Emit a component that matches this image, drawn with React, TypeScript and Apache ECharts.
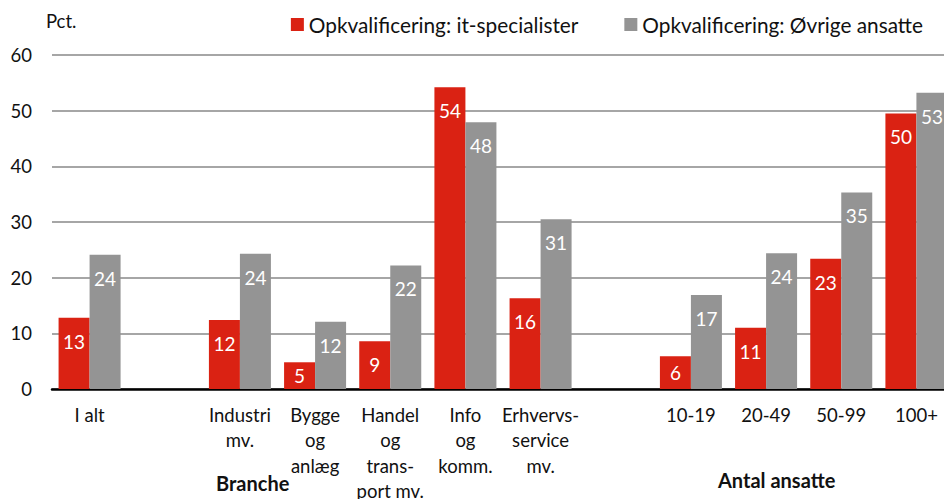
import React, { useEffect, useRef } from "react";
import * as echarts from "echarts";

const categories = [
  "I alt",
  "",
  "Industri\nmv.",
  "Bygge\nog\nanlæg",
  "Handel\nog\ntrans-\nport mv.",
  "Info\nog\nkomm.",
  "Erhvervs-\nservice\nmv.",
  " ",
  "10-19",
  "20-49",
  "50-99",
  "100+",
];
const itSpecialister: (number | null)[] = [12.8, null, 12.4, 4.8, 8.6, 54.2, 16.3, null, 5.9, 11.0, 23.4, 49.5];
const ovrigeAnsatte: (number | null)[] = [24.1, null, 24.3, 12.1, 22.2, 47.9, 30.5, null, 16.9, 24.4, 35.3, 53.2];
const seriesNames = ["Opkvalificering: it-specialister", "Opkvalificering: Øvrige ansatte"];
const yTicks = { min: 0, max: 60, interval: 10 };

const FONT = "Lato";

function makeData(vals: (number | null)[]) {
  return vals.map((v) =>
    v === null
      ? null
      : {
          value: v,
          label: v < 8 ? { position: "inside" } : { position: "insideTop", distance: 14 },
        }
  );
}

export default function App() {
  const ref = useRef<HTMLDivElement>(null);
  useEffect(() => {
    document.body.style.margin = "0";
    document.body.style.overflow = "hidden";
    if (!ref.current) return;
    const chart = echarts.init(ref.current, null, { renderer: "svg" });
    const labelCommon = {
      show: true,
      color: "#ffffff",
      fontFamily: FONT,
      fontSize: 19,
      formatter: (p: any) => String(Math.round(p.value)),
    };
    chart.setOption({
      animation: false,
      textStyle: { fontFamily: FONT },
      grid: {
        left: 52,
        right: -10,
        top: 55,
        bottom: 110,
        containLabel: false,
        outerBoundsMode: "none",
      },
      legend: {
        top: 9,
        right: 16,
        itemWidth: 13,
        itemHeight: 13,
        itemGap: 46,
        icon: "rect",
        textStyle: { fontFamily: FONT, fontSize: 20.8, color: "#111" },
        data: seriesNames,
      },
      xAxis: {
        type: "category",
        data: categories,
        axisTick: { show: false },
        axisLine: { show: true, lineStyle: { color: "#000", width: 2.5 } },
        axisLabel: {
          interval: 0,
          color: "#111",
          fontFamily: FONT,
          fontSize: 18.5,
          lineHeight: 25.5,
          margin: 13,
        },
      },
      yAxis: {
        type: "value",
        min: yTicks.min,
        max: yTicks.max,
        interval: yTicks.interval,
        axisLine: { show: false },
        axisTick: { show: false },
        splitLine: { lineStyle: { color: "#a6a6a6", width: 2 } },
        axisLabel: { color: "#111", fontFamily: FONT, fontSize: 18.5, margin: 20 },
      },
      series: [
        {
          name: seriesNames[0],
          type: "bar",
          data: makeData(itSpecialister),
          itemStyle: { color: "#da2213" },
          barGap: "0%",
          barCategoryGap: "17.5%",
          label: labelCommon,
        },
        {
          name: seriesNames[1],
          type: "bar",
          data: makeData(ovrigeAnsatte),
          itemStyle: { color: "#949494" },
          label: labelCommon,
        },
      ],
      graphic: [
        {
          type: "text",
          left: 46,
          top: 11,
          style: { text: "Pct.", fontFamily: FONT, fontSize: 18.5, fill: "#111" },
        },
        {
          type: "text",
          left: 216,
          top: 473,
          style: { text: "Branche", fontFamily: FONT, fontSize: 20, fontWeight: "bold", fill: "#111" },
        },
        {
          type: "text",
          left: 718,
          top: 470,
          style: { text: "Antal ansatte", fontFamily: FONT, fontSize: 20, fontWeight: "bold", fill: "#111" },
        },
      ],
    });
    return () => chart.dispose();
  }, []);
  return <div ref={ref} style={{ width: 944, height: 499 }} />;
}
